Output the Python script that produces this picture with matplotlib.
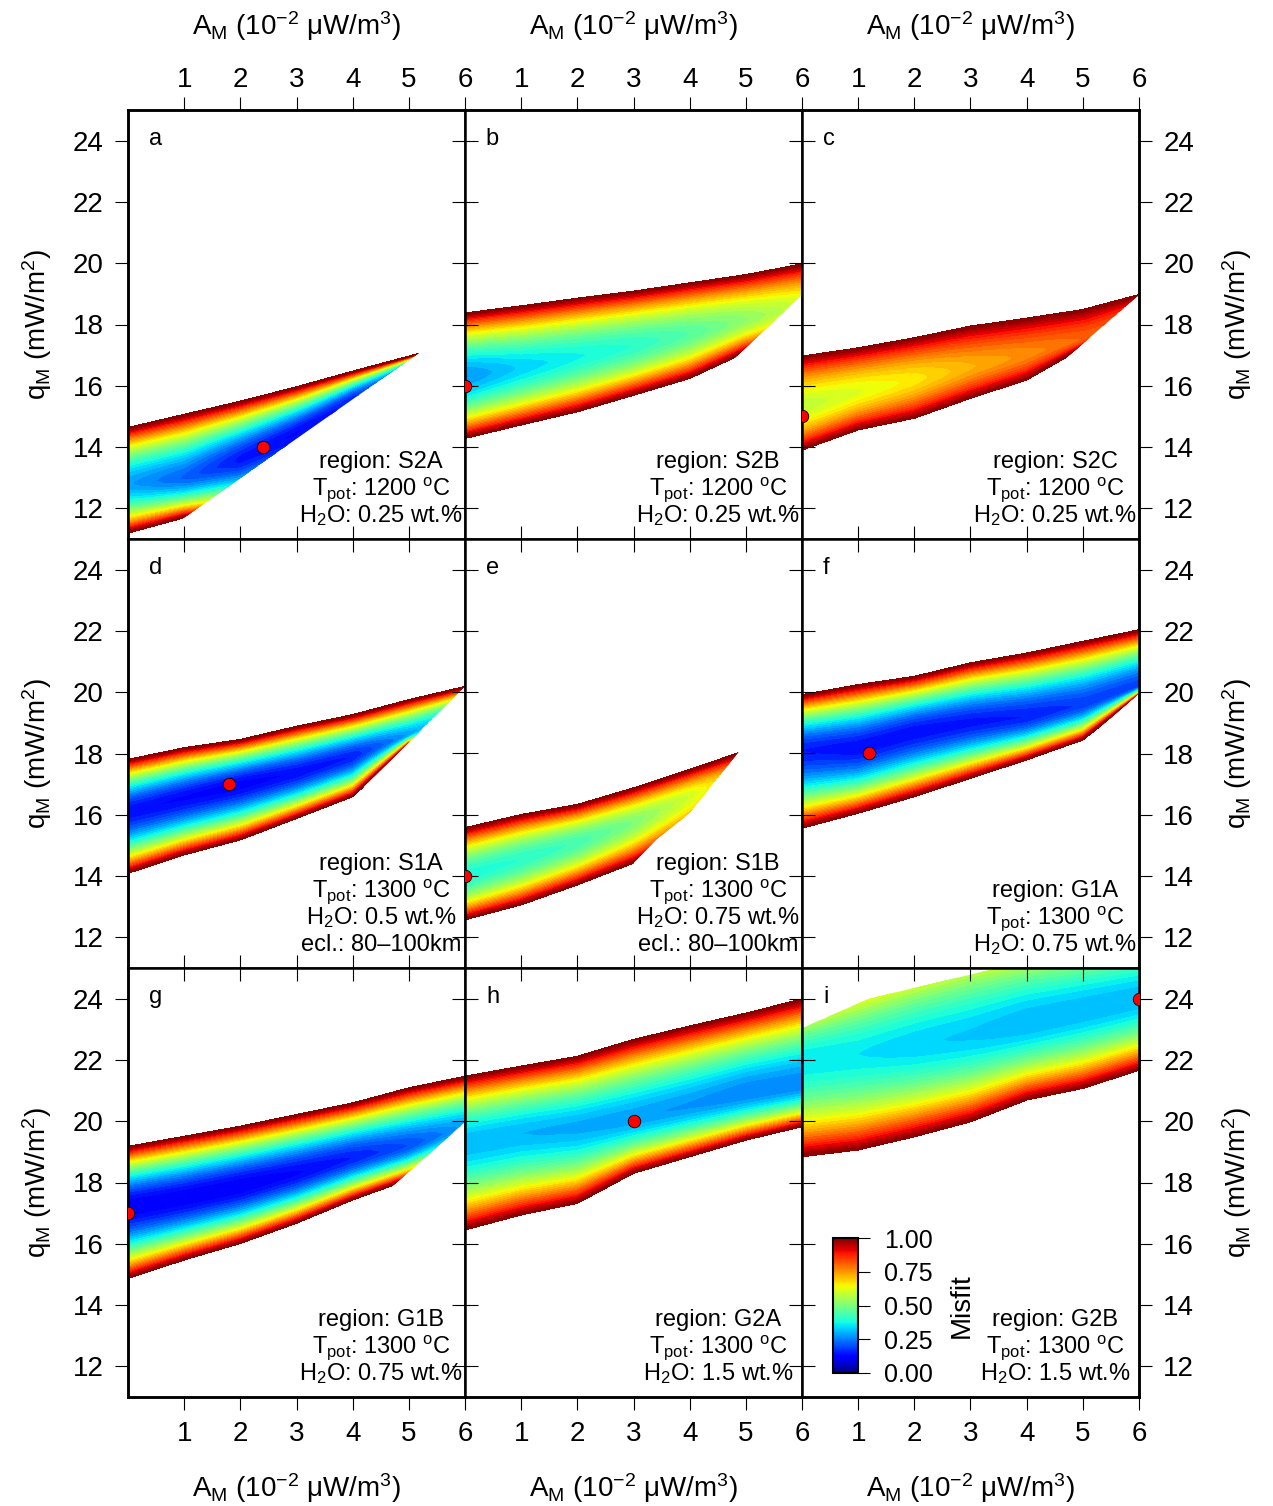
import numpy as np
import matplotlib
matplotlib.use('Agg')
import matplotlib.pyplot as plt
from matplotlib.patches import Polygon
from matplotlib.cm import ScalarMappable
from matplotlib.colors import Normalize

plt.rcParams['font.family'] = ['Liberation Sans', 'DejaVu Sans']
plt.rcParams['mathtext.fontset'] = 'custom'
plt.rcParams['mathtext.rm'] = 'Liberation Sans'
plt.rcParams['mathtext.it'] = 'Liberation Sans:italic'
plt.rcParams['mathtext.bf'] = 'Liberation Sans:bold'

a_nodes = [0, 1, 2, 3, 4, 5, 6]

# q_M (mW/m2) of the misfit=1 upper / lower edge, the valley line, and misfit along the valley
top_a = [14.63, 15.06, 15.49, 15.96, 16.47, 16.96, 17.45]
bot_a = [11.2, 11.7, 11.9, 12.5, 13.3, 14.2, 15.0]
mid_a = [12.8, 13.0, 13.6, 14.45, 15.6, 16.7, 17.3]
min_a = [0.28, 0.22, 0.14, 0.12, 0.16, 0.30, 0.50]

top_b = [18.37, 18.6, 18.85, 19.08, 19.35, 19.62, 19.97]
bot_b = [14.29, 14.73, 15.16, 15.7, 16.25, 17.1, 17.6]
mid_b = [16.3, 16.6, 16.95, 17.3, 17.7, 18.15, 18.6]
min_b = [0.27, 0.33, 0.37, 0.40, 0.45, 0.52, 0.60]

top_c = [16.96, 17.23, 17.56, 17.94, 18.2, 18.48, 18.97]
bot_c = [13.91, 14.57, 14.95, 15.6, 16.2, 17.25, 17.6]
mid_c = [15.3, 15.8, 16.2, 16.6, 17.0, 17.5, 18.5]
min_c = [0.58, 0.62, 0.66, 0.72, 0.76, 0.80, 0.85]

top_d = [17.8, 18.18, 18.45, 18.88, 19.26, 19.75, 20.18]
bot_d = [14.1, 14.7, 15.19, 15.89, 16.6, 18.3, 18.8]
mid_d = [16.1, 16.55, 16.98, 17.37, 17.9, 18.6, 19.5]
min_d = [0.13, 0.12, 0.11, 0.13, 0.15, 0.28, 0.40]

top_e = [15.57, 16.0, 16.33, 16.87, 17.47, 18.1, 18.8]
bot_e = [12.58, 13.07, 13.72, 14.43, 15.3, 16.2, 17.0]
mid_e = [14.0, 14.55, 15.1, 15.75, 16.6, 17.5, 18.5]
min_e = [0.38, 0.40, 0.43, 0.50, 0.60, 0.75, 0.85]

top_f = [19.91, 20.24, 20.51, 20.95, 21.27, 21.65, 22.03]
bot_f = [15.57, 16.06, 16.6, 17.2, 17.8, 18.45, 19.9]
mid_f = [18.1, 18.2, 18.7, 19.0, 19.2, 19.6, 20.2]
min_f = [0.15, 0.13, 0.13, 0.14, 0.15, 0.18, 0.18]

top_g = [19.17, 19.5, 19.83, 20.21, 20.59, 21.08, 21.46]
bot_g = [14.88, 15.48, 16.02, 16.68, 17.44, 18.1, 18.9]
mid_g = [17.2, 17.5, 17.87, 18.3, 18.8, 19.2, 19.8]
min_g = [0.10, 0.10, 0.10, 0.12, 0.15, 0.20, 0.28]

top_h = [21.46, 21.79, 22.11, 22.66, 23.1, 23.52, 23.98]
bot_h = [16.46, 16.95, 17.33, 18.31, 18.85, 19.39, 19.83]
mid_h = [19.3, 19.6, 19.8, 20.1, 20.5, 20.9, 21.2]
min_h = [0.30, 0.30, 0.29, 0.28, 0.27, 0.25, 0.25]

top_i = [24.1, 25.0, 25.7, 26.3, 26.5, 26.6, 26.7]
bot_i = [18.85, 19.07, 19.5, 19.99, 20.7, 21.08, 21.67]
mid_i = [22.0, 22.2, 22.5, 22.8, 23.2, 23.6, 24.0]
min_i = [0.35, 0.35, 0.33, 0.32, 0.30, 0.30, 0.30]

# edges of the explored parameter space (no model outside)
mask_a = ([0, 1.0, 6], [10.5, 11.7, 18.13], 'below')
mask_b = ([0, 4.5, 4.8, 6], [10, 10, 16.9, 18.97], 'below')
mask_c = ([0, 4.4, 4.7, 6], [10, 10, 16.9, 18.97], 'below')
mask_d = ([0, 3.9, 4.2, 6], [10, 10, 16.92, 20.2], 'below')
mask_e = ([0, 2.7, 3.0, 3.4, 4.0, 4.9, 6], [10, 10, 14.43, 15.19, 16.06, 18.12, 20.2], 'below')
mask_f = ([0, 5.0, 5.3, 6], [10, 10, 18.84, 19.97], 'below')
mask_g = ([0, 4.4, 4.7, 6], [10, 10, 17.87, 19.97], 'below')
mask_h = None
mask_i = ([0, 1.2, 3.5, 6], [23.03, 24.0, 25.0, 26.0], 'above')

# best fit models
best_A = [2.4, 0, 0, 1.8, 0, 1.2, 0, 3, 6]
best_q = [14, 16, 15, 17, 14, 18, 17, 20, 24]

letters = ['a', 'b', 'c', 'd', 'e', 'f', 'g', 'h', 'i']
regions = ['S2A', 'S2B', 'S2C', 'S1A', 'S1B', 'G1A', 'G1B', 'G2A', 'G2B']
tpot = ['1200', '1200', '1200', '1300', '1300', '1300', '1300', '1300', '1300']
water = ['0.25', '0.25', '0.25', '0.5', '0.75', '0.75', '0.75', '1.5', '1.5']
eclogite = [None, None, None, '80\u2013100km', '80\u2013100km', None, None, None, None]

panels = [
    (top_a, bot_a, mid_a, min_a, mask_a),
    (top_b, bot_b, mid_b, min_b, mask_b),
    (top_c, bot_c, mid_c, min_c, mask_c),
    (top_d, bot_d, mid_d, min_d, mask_d),
    (top_e, bot_e, mid_e, min_e, mask_e),
    (top_f, bot_f, mid_f, min_f, mask_f),
    (top_g, bot_g, mid_g, min_g, mask_g),
    (top_h, bot_h, mid_h, min_h, mask_h),
    (top_i, bot_i, mid_i, min_i, mask_i),
]

xlab = r'A$_{\rm M}$ (10$^{-2}$ μW/m$^3$)'
ylab = r'q$_{\rm M}$ (mW/m$^2$)'
xt = [1, 2, 3, 4, 5, 6]
yt = [12, 14, 16, 18, 20, 22, 24]
P = 1.8
levels = np.linspace(0, 1, 41)

Ag, Qg = np.meshgrid(np.linspace(0, 6, 241), np.linspace(11, 25, 561))

fig = plt.figure(figsize=(12.73, 15.06), dpi=100)
gs = fig.add_gridspec(3, 3, left=128/1273, right=1139/1273, top=1-110/1506,
                      bottom=1-1397/1506, wspace=0, hspace=0)

TL = 9.4
for k, (top, bot, mid, m0, mask) in enumerate(panels):
    r, c = divmod(k, 3)
    ax = fig.add_subplot(gs[r, c])
    T = np.interp(Ag, a_nodes, top)
    B = np.interp(Ag, a_nodes, bot)
    M = np.interp(Ag, a_nodes, mid)
    M0 = np.interp(Ag, a_nodes, m0)
    t = np.where(Qg >= M, (Qg - M) / (T - M), (M - Qg) / (M - B))
    Z = M0 + (1 - M0) * np.abs(t) ** P
    cs = ax.contourf(Ag, Qg, Z, levels=levels, cmap='jet')
    cs.set_edgecolor('face')
    cs.set_linewidth(0.4)
    if mask is not None:
        mA, mQ, side = mask
        edge = 27 if side == 'below' else 9
        verts = list(zip(mA, mQ)) + [(6, edge), (0, edge)]
        clip = Polygon(verts, closed=True, transform=ax.transData)
        cs.set_clip_path(clip)
    ax.plot(best_A[k], best_q[k], 'o', ms=9, mfc='red', mec='black', mew=0.6, zorder=5)

    ax.set_xlim(0, 6)
    ax.set_ylim(11, 25)
    ax.set_xticks(xt)
    ax.set_yticks(yt)
    for s in ax.spines.values():
        s.set_linewidth(1.8)
    ax.tick_params(direction='in', length=TL, width=0.8, top=True, right=True,
                   bottom=True, left=True, labelbottom=False, labelleft=False)

    if r == 0:
        ax.tick_params(top=False)
        sx = ax.secondary_xaxis('top')
        sx.set_xticks(xt)
        sx.tick_params(direction='out', length=TL, width=0.8, labelsize=20, pad=3)
        sx.set_xlabel(xlab, fontsize=20, labelpad=23)
        sx.spines['top'].set_linewidth(1.8)
    if r == 2:
        ax.tick_params(bottom=False)
        sx = ax.secondary_xaxis('bottom')
        sx.set_xticks(xt)
        sx.tick_params(direction='out', length=TL, width=0.8, labelsize=20, pad=8)
        sx.set_xlabel(xlab, fontsize=20, labelpad=17.5)
        sx.spines['bottom'].set_linewidth(1.8)
    if c == 0:
        ax.tick_params(left=False)
        sy = ax.secondary_yaxis('left')
        sy.set_yticks(yt)
        sy.tick_params(direction='out', length=TL, width=0.8, labelsize=20, pad=8)
        sy.set_ylabel(ylab, fontsize=20, labelpad=13.5)
        sy.spines['left'].set_linewidth(1.8)
    if c == 2:
        ax.tick_params(right=False)
        sy = ax.secondary_yaxis('right')
        sy.set_yticks(yt)
        sy.tick_params(direction='out', length=TL, width=0.8, labelsize=20, pad=8)
        sy.set_ylabel(ylab, fontsize=20, labelpad=18.5, rotation=90)
        sy.spines['right'].set_linewidth(1.8)

    ax.text(0.062, 0.918, letters[k], transform=ax.transAxes, fontsize=17,
            ha='left', va='baseline')
    lines = ['region: ' + regions[k],
             r'T$_{\rm pot}$: ' + tpot[k] + r' $^{\rm o}$C',
             r'H$_2$O: ' + water[k] + ' wt.%']
    if eclogite[k]:
        lines.append('ecl.: ' + eclogite[k])
    for j, line in enumerate(reversed(lines)):
        ax.text(0.751, 0.040 + 0.0625 * j, line, transform=ax.transAxes,
                fontsize=17, ha='center', va='baseline', zorder=6)

cax = fig.add_axes([833/1273, 1 - 1373/1506, 25/1273, 135/1506])
cb = fig.colorbar(ScalarMappable(norm=Normalize(0, 1), cmap='jet'), cax=cax,
                  ticks=[0, 0.25, 0.5, 0.75, 1.0], format='%.2f')
cb.outline.set_linewidth(1.5)
cax.tick_params(direction='out', length=8.6, width=0.8, labelsize=18, pad=10)
cb.set_label('Misfit', fontsize=20, labelpad=11.5)

fig.savefig('out.png', dpi=100)
